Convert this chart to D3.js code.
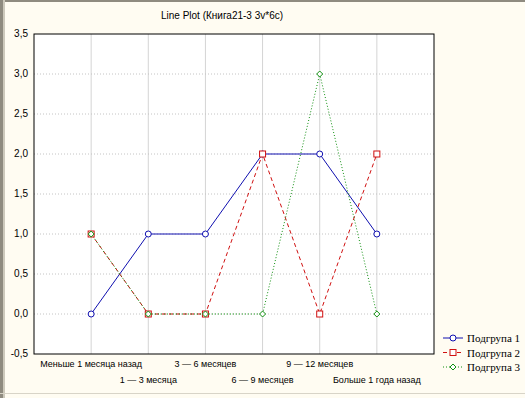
<!DOCTYPE html>
<html>
<head>
<meta charset="utf-8">
<script src="https://cdn.jsdelivr.net/npm/d3@7"></script>
<style>
  body { margin: 0; background: #fffcf2; }
  svg { display: block; }
</style>
</head>
<body>
<div id="chart"></div>
<script>
const categories = [
  'Меньше 1 месяца назад',
  '1 — 3 месяца',
  '3 — 6 месяцев',
  '6 — 9 месяцев',
  '9 — 12 месяцев',
  'Больше 1 года назад'
];
const seriesNames = ['Подгрупа 1', 'Подгрупа 2', 'Подгрупа 3'];
const group1 = [0, 1, 1, 2, 2, 1];
const group2 = [1, 0, 0, 2, 0, 2];
const group3 = [1, 0, 0, 0, 3, 0];
const yTicks = [-0.5, 0, 0.5, 1, 1.5, 2, 2.5, 3, 3.5];

const svgWidth = 525;
const svgHeight = 398;
const margin = { top: 34, left: 34, right: 91, bottom: 44 };
const width = svgWidth - margin.left - margin.right;
const plotH = 320;

const svg = d3.select('#chart').append('svg')
  .attr('width', svgWidth)
  .attr('height', svgHeight);

// window frame
svg.append('rect').attr('x', 0).attr('y', 0).attr('width', svgWidth).attr('height', 2).attr('fill', '#8f8b80');
svg.append('rect').attr('x', 0).attr('y', 0).attr('width', 3).attr('height', svgHeight).attr('fill', '#8f8b80');
svg.append('rect').attr('x', 3).attr('y', 0).attr('width', 2).attr('height', svgHeight).attr('fill', '#cdc9bc');
svg.append('rect').attr('x', 0).attr('y', 393).attr('width', svgWidth).attr('height', 1).attr('fill', '#d8d4c8');

const x = d3.scaleLinear().domain([-1, categories.length]).range([0, width]);
const y = d3.scaleLinear().domain([-0.5, 3.5]).range([plotH, 0]);

const g = svg.append('g')
  .attr('transform', `translate(${margin.left},${margin.top})`);

g.append('rect')
  .attr('width', width)
  .attr('height', plotH)
  .attr('fill', '#fff');

// grid
g.selectAll('.vgrid')
  .data(categories)
  .join('line')
  .attr('class', 'vgrid')
  .attr('x1', (d, i) => x(i)).attr('x2', (d, i) => x(i))
  .attr('y1', 0).attr('y2', plotH)
  .attr('stroke', '#d4d4d4');

g.selectAll('.hgrid')
  .data(yTicks.slice(1, -1))
  .join('line')
  .attr('class', 'hgrid')
  .attr('x1', 0).attr('x2', width)
  .attr('y1', d => y(d)).attr('y2', d => y(d))
  .attr('stroke', '#c4c4c4')
  .attr('stroke-dasharray', '1,2');

g.append('rect')
  .attr('width', width)
  .attr('height', plotH)
  .attr('fill', 'none')
  .attr('stroke', '#000');

// y axis labels
g.selectAll('.ylab')
  .data(yTicks)
  .join('text')
  .attr('x', -6)
  .attr('y', d => y(d) + 3)
  .attr('text-anchor', 'end')
  .attr('font-family', 'Liberation Sans, Arial, sans-serif')
  .attr('font-size', 10)
  .attr('fill', '#000')
  .text(d => d3.format('.1f')(d).replace('.', ',').replace('−', '-'));

// x axis labels (staggered)
g.selectAll('.xlab')
  .data(categories)
  .join('text')
  .attr('x', (d, i) => x(i))
  .attr('y', (d, i) => plotH + (i % 2 ? 29 : 13))
  .attr('text-anchor', 'middle')
  .attr('font-family', 'Liberation Sans, Arial, sans-serif')
  .attr('font-size', 9)
  .attr('fill', '#000')
  .text(d => d);

// title
svg.append('text')
  .attr('x', 222)
  .attr('y', 19)
  .attr('text-anchor', 'middle')
  .attr('font-family', 'Liberation Sans, Arial, sans-serif')
  .attr('font-size', 10)
  .text('Line Plot (Книга21-3 3v*6c)');

const series = [
  { name: seriesNames[0], values: group1, color: '#1010b0', dash: null, marker: 'circle' },
  { name: seriesNames[1], values: group2, color: '#d01010', dash: '4,3', marker: 'square' },
  { name: seriesNames[2], values: group3, color: '#109010', dash: '1,2', marker: 'diamond' }
];

const line = d3.line()
  .x((d, i) => x(i))
  .y(d => y(d));

function drawMarker(sel, type, color) {
  if (type === 'circle') {
    sel.append('circle').attr('r', 3);
  } else if (type === 'square') {
    sel.append('rect').attr('x', -3).attr('y', -3).attr('width', 6).attr('height', 6);
  } else {
    sel.append('path').attr('d', 'M0,-3L3,0L0,3L-3,0Z');
  }
  sel.selectAll('*')
    .attr('fill', '#fff')
    .attr('stroke', color)
    .attr('stroke-width', 1);
}

series.forEach(s => {
  g.append('path')
    .datum(s.values)
    .attr('fill', 'none')
    .attr('stroke', s.color)
    .attr('stroke-width', 1)
    .attr('stroke-dasharray', s.dash)
    .attr('d', line);
});

series.forEach(s => {
  s.values.forEach((v, i) => {
    const m = g.append('g').attr('transform', `translate(${x(i)},${y(v)})`);
    drawMarker(m, s.marker, s.color);
  });
});

// legend
const legend = svg.append('g').attr('transform', 'translate(443,338)');
series.forEach((s, i) => {
  const row = legend.append('g').attr('transform', `translate(0,${i * 14.5})`);
  row.append('line')
    .attr('x1', 0).attr('x2', 20)
    .attr('stroke', s.color)
    .attr('stroke-dasharray', s.dash);
  const m = row.append('g').attr('transform', 'translate(10,0)');
  drawMarker(m, s.marker, s.color);
  row.append('text')
    .attr('x', 24)
    .attr('y', 4)
    .attr('font-family', 'Liberation Serif, Times New Roman, serif')
    .attr('font-size', 11)
    .text(s.name);
});
</script>
</body>
</html>
